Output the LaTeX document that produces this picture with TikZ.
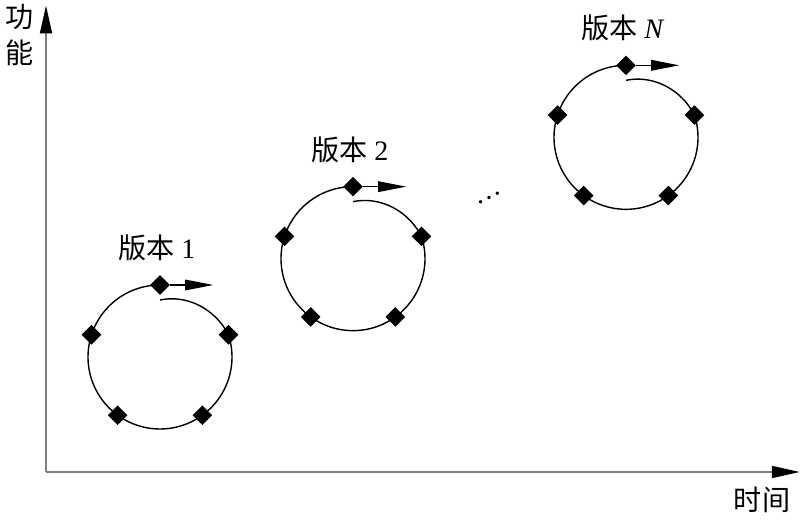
\documentclass[tikz,border=0pt]{standalone}
\usepackage{fontspec}
\setmainfont{Liberation Serif}
\newfontfamily\cjk{Noto Sans CJK SC}
\usetikzlibrary{arrows.meta,shapes.geometric,positioning}

\begin{document}
\begin{tikzpicture}[
    every node/.style={font=\fontsize{12}{15}\selectfont},
    axisline/.style={draw=gray, line width=1.1pt, -{Triangle[length=12pt,width=5pt,color=black]}},
    vdot/.style={diamond, fill, inner sep=0pt, minimum size=0.3cm},
    cycleline/.style={line width=0.6pt},
  ]
    \useasboundingbox (-0.69,-0.75) rectangle (11.46,7.08);
    \coordinate (o) at (0,0);
    \coordinate (ytop) at (0,7.0);
    \coordinate (xend) at (11.31,0);
    \draw[axisline] (o) -- (ytop);
    \draw[axisline] (o) -- (xend);
    \node[align=center, inner sep=0pt] (ylab) at (-0.39,6.555) {\cjk 功\\\cjk 能};
    \node (xlab) at (10.74,-0.42) {\cjk 时间};
    % one release cycle each
    \foreach \cx/\cy/\name/\txt in {1.71/1.725/v1/1, 4.605/3.2/v2/2, 8.70/5.02/vn/\textit{N}} {
        \coordinate (\name) at (\cx,\cy);
        \draw[cycleline, shift={(\name)}] plot[domain=90:450, samples=150, smooth]
            (\x:{1.08-0.003125*max(\x-378,0)});
        \foreach \a [count=\i] in {90,162,234,306,18}
            \node[vdot] (\name-\i) at ([shift={(\a:1.08)}]\name) {};
        \coordinate (\name-tip) at ([xshift=0.8cm]\name-1);
        \draw[cycleline, -{Triangle[length=12pt,width=4.5pt]}] (\name-1) -- (\name-tip);
        \node[above=0.08cm of \name-1, xshift=-0.05cm] (\name-lab) {{\cjk 版本} \txt};
    }
    \node[rotate=27] (more) at (6.645,4.11) {\ldots};
\end{tikzpicture}
\end{document}
